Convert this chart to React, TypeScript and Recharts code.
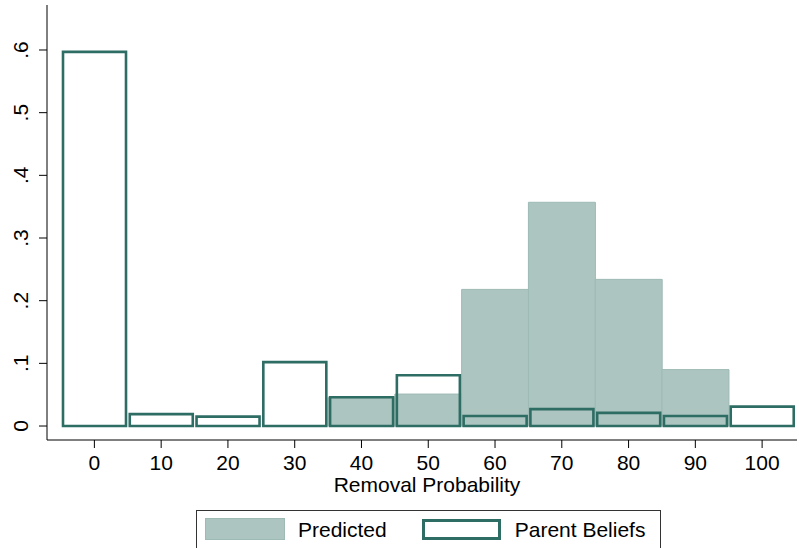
import { BarChart, Bar, XAxis, YAxis, Legend, Rectangle } from 'recharts'

const bins = ['0', '10', '20', '30', '40', '50', '60', '70', '80', '90', '100']
const predicted = [0, 0, 0, 0, 0.045, 0.051, 0.218, 0.357, 0.234, 0.09, 0]
const parentBeliefs = [0.597, 0.019, 0.015, 0.102, 0.046, 0.081, 0.016, 0.027, 0.021, 0.016, 0.031]
const yTicks = [0, 0.1, 0.2, 0.3, 0.4, 0.5, 0.6]

const seriesNames = ['Predicted', 'Parent Beliefs']
const FONT = "'Liberation Sans', Arial, sans-serif"
const FILL = '#adc5c0'
const FILL_EDGE = '#9dbab4'
const DARK = '#2e6d64'

const data = bins.map((b, i) => ({
  bin: b,
  predicted: predicted[i],
  parent: parentBeliefs[i]
}))

const fmtY = (v: number) => (v === 0 ? '0' : v.toFixed(1).replace(/^0/, ''))

const YTick = (props: any) => {
  const { x, y, payload } = props
  return (
    <text
      x={x}
      y={y}
      transform={`rotate(-90 ${x} ${y})`}
      textAnchor='middle'
      fontSize={21}
      fontFamily={FONT}
      fill='#000'
    >
      {fmtY(payload.value)}
    </text>
  )
}

// outline bars sit a little inside their bin, like stata draws them
const OutlineBar = (props: any) => {
  const { x, y, width, height } = props
  if (!height) return null
  return (
    <Rectangle
      x={x + 2}
      y={y}
      width={width - 4}
      height={height}
      fill='none'
      stroke={DARK}
      strokeWidth={2.6}
    />
  )
}

const LegendBox = () => (
  <div
    style={{
      border: '1px solid #333',
      height: 44,
      boxSizing: 'border-box',
      display: 'flex',
      alignItems: 'flex-start',
      fontFamily: FONT,
      fontSize: 21,
      color: '#000'
    }}
  >
    <div
      style={{
        marginLeft: 8,
        marginTop: 7,
        width: 80,
        height: 22,
        background: FILL,
        border: `1px solid ${FILL_EDGE}`,
        boxSizing: 'border-box'
      }}
    />
    <span style={{ marginLeft: 13, marginTop: 7, lineHeight: '24px' }}>{seriesNames[0]}</span>
    <div
      style={{
        marginLeft: 35,
        marginTop: 8,
        width: 79,
        height: 21,
        background: '#fff',
        border: `3px solid ${DARK}`,
        boxSizing: 'border-box'
      }}
    />
    <span style={{ marginLeft: 14, marginTop: 7, lineHeight: '24px' }}>{seriesNames[1]}</span>
  </div>
)

export default function App () {
  return (
    <div style={{ position: 'absolute', left: 0, top: 0, width: 799, height: 548, background: '#fff' }}>
      <BarChart
        width={799}
        height={548}
        data={data}
        margin={{ top: 5, right: 2, left: 0, bottom: 48 }}
        barCategoryGap={0}
        barGap={0}
      >
        <XAxis
          xAxisId='a'
          dataKey='bin'
          height={60}
          padding={{ left: 14, right: 1.5 }}
          stroke='#000'
          tickSize={8}
          tickMargin={7}
          tick={{ fontSize: 21, fontFamily: FONT, fill: '#000' }}
          interval={0}
          label={(p: any) => {
            const vb = p.viewBox
            return (
              <text
                x={vb.x + vb.width / 2 + 5}
                y={vb.y + 52}
                textAnchor='middle'
                fontSize={21}
                fontFamily={FONT}
                fill='#000'
              >
                Removal Probability
              </text>
            )
          }}
        />
        <XAxis xAxisId='b' dataKey='bin' hide padding={{ left: 14, right: 1.5 }} />
        <YAxis
          width={47}
          type='number'
          domain={[-0.0223, 0.6718]}
          ticks={yTicks}
          allowDataOverflow
          stroke='#000'
          tickSize={8}
          tickMargin={11}
          tick={<YTick />}
        />
        <Legend
          layout='horizontal'
          verticalAlign='middle'
          align='center'
          wrapperStyle={{ top: 510, left: 196, width: 465, height: 44 }}
          content={<LegendBox />}
        />
        <Bar
          xAxisId='a'
          dataKey='predicted'
          name={seriesNames[0]}
          fill={FILL}
          stroke={FILL_EDGE}
          strokeWidth={1}
          isAnimationActive={false}
        />
        <Bar
          xAxisId='b'
          dataKey='parent'
          name={seriesNames[1]}
          shape={<OutlineBar />}
          isAnimationActive={false}
        />
      </BarChart>
    </div>
  )
}
